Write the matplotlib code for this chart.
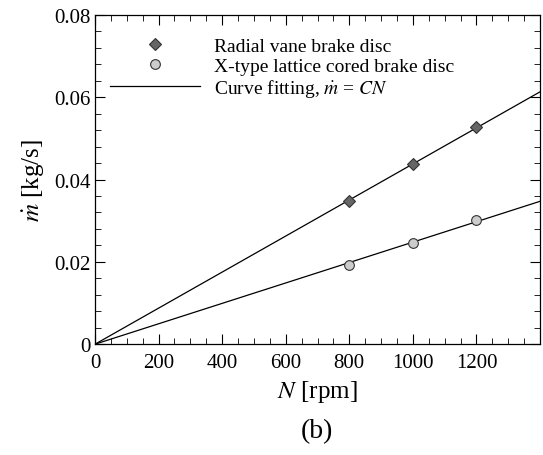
import matplotlib
matplotlib.use("Agg")
import matplotlib.pyplot as plt
from matplotlib.ticker import MultipleLocator
import numpy as np

plt.rcParams["font.family"] = ["Liberation Serif", "DejaVu Serif"]
plt.rcParams["mathtext.fontset"] = "stix"

# measured points
rpm = np.array([800, 1000, 1200])
radial_mdot = np.array([0.0348, 0.0437, 0.0528])
xtype_mdot = np.array([0.0193, 0.0247, 0.0302])

# fit m = C N through origin
c_radial = np.sum(rpm * radial_mdot) / np.sum(rpm ** 2)
c_xtype = np.sum(rpm * xtype_mdot) / np.sum(rpm ** 2)
n_fit = np.array([0, 1400])

fig = plt.figure(figsize=(5.43, 4.56), dpi=100)
ax = fig.add_axes([0.175, 0.243, 0.8195, 0.722])

ax.plot(n_fit, c_radial * n_fit, color="black", lw=0.9, zorder=2)
ax.plot(n_fit, c_xtype * n_fit, color="black", lw=0.9, zorder=2)
ax.plot(rpm, radial_mdot, "D", ms=6.5, mfc="#666666", mec="#333333", mew=0.8,
        ls="none", zorder=3, label="Radial vane brake disc")
ax.plot(rpm, xtype_mdot, "o", ms=7, mfc="#cccccc", mec="#333333", mew=0.8,
        ls="none", zorder=3, label="X-type lattice cored brake disc")
ax.plot([], [], color="black", lw=0.9, label=r"Curve fitting, $\dot{m}$ = $CN$")

ax.set_xlim(0, 1400)
ax.set_ylim(0, 0.08)
ax.xaxis.set_minor_locator(MultipleLocator(50))
ax.yaxis.set_minor_locator(MultipleLocator(0.004))
ax.set_xticks([0, 200, 400, 600, 800, 1000, 1200])
ax.set_xticklabels(["0", "200", "400", "600", "800", "1000", "1200"])
ax.set_yticks([0, 0.02, 0.04, 0.06, 0.08])
ax.set_yticklabels(["0", "0.02", "0.04", "0.06", "0.08"])
ax.tick_params(which="both", direction="in", top=True, right=True, labelsize=15)
ax.tick_params(which="major", length=7, width=0.8)
ax.tick_params(which="minor", length=4, width=0.6)
ax.tick_params(axis="x", pad=6)
ax.tick_params(axis="y", pad=3)
for s in ax.spines.values():
    s.set_linewidth(0.9)

ax.set_xlabel(r"$N$ [rpm]", fontsize=18, labelpad=5)
ax.set_ylabel(r"$\dot{m}$ [kg/s]", fontsize=18, labelpad=6)

ax.legend(loc="upper left", frameon=False, fontsize=14, handlelength=4.6,
          handletextpad=0.75, borderaxespad=0, borderpad=0, labelspacing=0.12,
          bbox_to_anchor=(0.034, 0.932))

fig.text(0.584, 0.04, "(b)", fontsize=20, ha="center")

fig.savefig("out.png", dpi=100)
